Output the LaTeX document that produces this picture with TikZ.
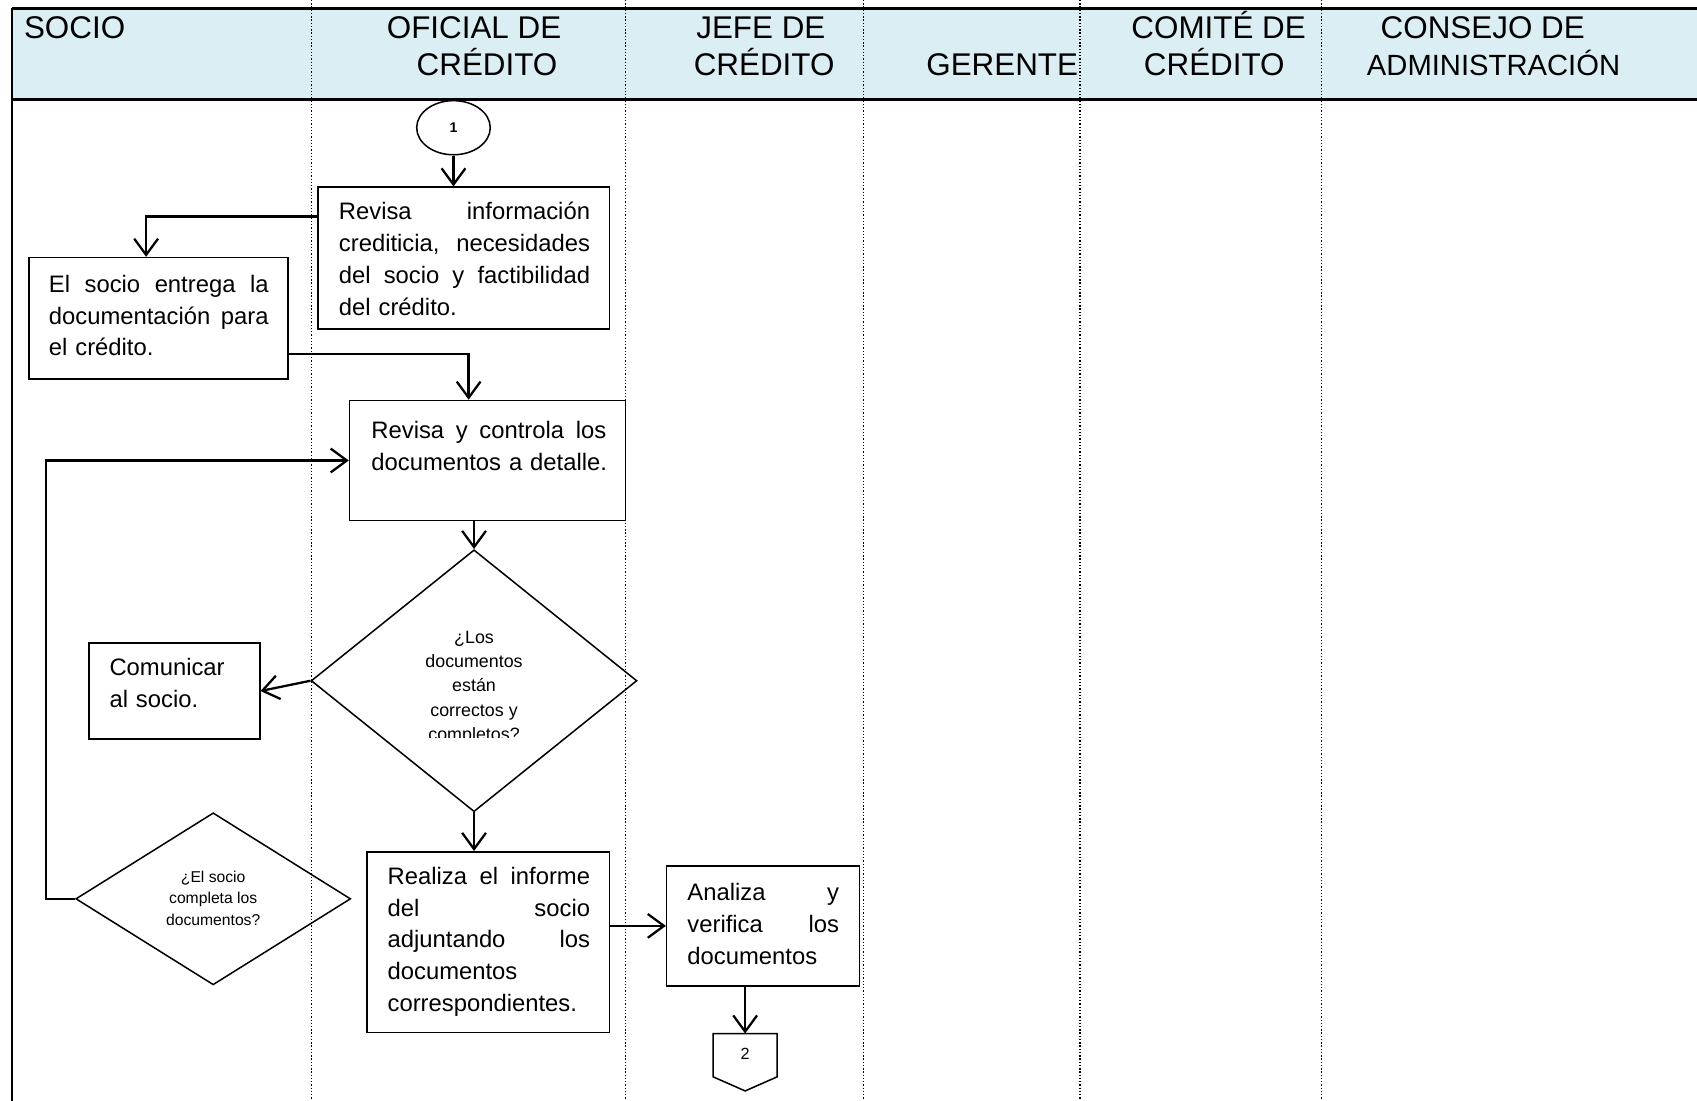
\documentclass[tikz,border=0pt]{standalone}
\usepackage{fontspec}
\setmainfont{Liberation Sans}
\usetikzlibrary{arrows.meta,shapes.geometric,calc}
\definecolor{hdrblue}{HTML}{DAEEF3}
% one fully justified line of a text block
\newcommand\jl[1]{\leavevmode\hbox to \linewidth{#1}}
\begin{document}
\begin{tikzpicture}[x=1pt,y=-1pt,
  lane/.style={line width=1.2pt, dash pattern=on 1.2pt off 1.8pt},
  box/.style={draw, line width=1.4pt, rectangle, inner sep=0pt},
  dia/.style={draw, line width=1.4pt, diamond, inner sep=0pt},
  body/.style={inner sep=0pt, anchor=north west, align=left,
    font=\fontsize{22}{29.3}\selectfont, execute at begin node=\rule{0pt}{22pt}},
  hdr/.style={inner sep=0pt, anchor=base, font=\fontsize{29}{34}\selectfont},
  flow/.style={line width=2.1pt, -{Straight Barb[length=15pt,width=22pt]}}]
\useasboundingbox (0,0) rectangle (1568,1017);

% header band
\fill[hdrblue] (11,8) rectangle (1568,92);
\foreach \x in {288,578,798,998,1221} \draw[lane] (\x,0) -- (\x,1017);
\draw[line width=2.8pt] (11,8) -- (1568,8);
\draw[line width=2.8pt] (11,92) -- (1568,92);
\draw[line width=1.6pt] (11,7) -- (11,1017);

% lane titles
\node[hdr, anchor=base west] (h1) at (22,36) {SOCIO};
\node[hdr] (h2a) at (438,36) {OFICIAL DE};
\node[hdr] (h2b) at (450,70) {CRÉDITO};
\node[hdr] (h3a) at (703,36) {JEFE DE};
\node[hdr] (h3b) at (706,70) {CRÉDITO};
\node[hdr] (h4) at (926,70) {GERENTE};
\node[hdr] (h5a) at (1126,36) {COMITÉ DE};
\node[hdr] (h5b) at (1122,70) {CRÉDITO};
\node[hdr] (h6a) at (1370,36) {CONSEJO DE};
\node[hdr, font=\fontsize{27}{32}\selectfont] (h6b) at (1380,70) {ADMINISTRACIÓN};

% shapes
\node[draw, line width=1.4pt, ellipse, minimum width=68pt, minimum height=50pt, inner sep=0pt,
  font=\bfseries\fontsize{13}{15}\selectfont] (c1) at (419,118) {1};
\node[box, minimum width=269pt, minimum height=131pt] (rev1) at (428.5,238.5) {};
\node[box, minimum width=239pt, minimum height=112pt] (ent) at (146.5,294) {};
\node[box, minimum width=255pt, minimum height=111pt] (ctl) at (450.5,425.5) {};
\node[dia, minimum width=301pt, minimum height=242pt] (d1) at (438,629) {};
\node[box, minimum width=158pt, minimum height=89pt] (com) at (161,638.5) {};
\node[dia, minimum width=254pt, minimum height=159pt] (d2) at (197,830.5) {};
\node[box, minimum width=224pt, minimum height=167pt] (inf) at (451,870.5) {};
\node[box, minimum width=178pt, minimum height=111pt] (ana) at (705,855.5) {};
\draw[line width=1.4pt] (659,955) -- (718,955) -- (718,995) -- (688.5,1008) -- (659,995) -- cycle;
\coordinate (c2top) at (688.5,955);
\node[inner sep=0pt, font=\fontsize{15}{17}\selectfont] (c2) at (688.5,974) {2};

% texts
\node[body, text width=232pt] (rev1t) at (313,181) {%
  \jl{Revisa\hfill información}\\
  \jl{crediticia,\hfill necesidades}\\
  \jl{del\hfill socio\hfill y\hfill factibilidad}\\
  del crédito.};
\node[body, text width=203pt] (entt) at (45,248) {%
  \jl{El\hfill socio\hfill entrega\hfill la}\\
  \jl{documentación\hfill para}\\
  el crédito.};
\node[body, text width=217pt] (ctlt) at (343,383) {%
  \jl{Revisa\hfill y\hfill controla\hfill los}\\
  \mbox{documentos a detalle.}};
\node[body, text width=140pt] (comt) at (101,602) {%
  Comunicar\\
  al socio.};
\node[body, text width=187pt] (inft) at (358,795) {%
  \jl{Realiza\hfill el\hfill informe}\\
  \jl{del\hfill socio}\\
  \jl{adjuntando\hfill los}\\
  documentos\\
  correspondientes.};
\node[body, text width=140pt] (anat) at (635,810) {%
  \jl{Analiza\hfill y}\\
  \jl{verifica\hfill los}\\
  documentos};
\begin{scope}
  \clip (300,560) rectangle (580,681);
  \node[inner sep=0pt, anchor=north, align=center,
    font=\fontsize{16.5}{22.5}\selectfont] (d1t) at (438,578) {%
    \rule{0pt}{16pt}¿Los\\documentos\\están\\correctos y\\completos?};
\end{scope}
\node[inner sep=0pt, anchor=north, align=center,
  font=\fontsize{14.5}{20}\selectfont] (d2t) at (197,800) {%
  \rule{0pt}{15pt}¿El socio\\completa los\\documentos?};

% connectors
\draw[flow] (c1.south) -- (c1.south |- rev1.north);
\draw[flow] (rev1.west |- 0,200) -| (ent.north -| 135,0);
\draw[flow] (ent.east |- 0,327) -| (ctl.north -| 433,0);
\draw[flow] (d1.north |- ctl.south) -- (d1.north);
\draw[flow] (d1.west) -- (com.east);
\draw[flow] (d1.south) -- (d1.south |- inf.north);
\draw[flow] (inf.east |- ana.west) -- (ana.west);
\draw[flow] (ana.south -| c2top) -- (c2top);
\draw[flow] (d2.west) -- ++(-27,0) |- (ctl.west);
\end{tikzpicture}
\end{document}
